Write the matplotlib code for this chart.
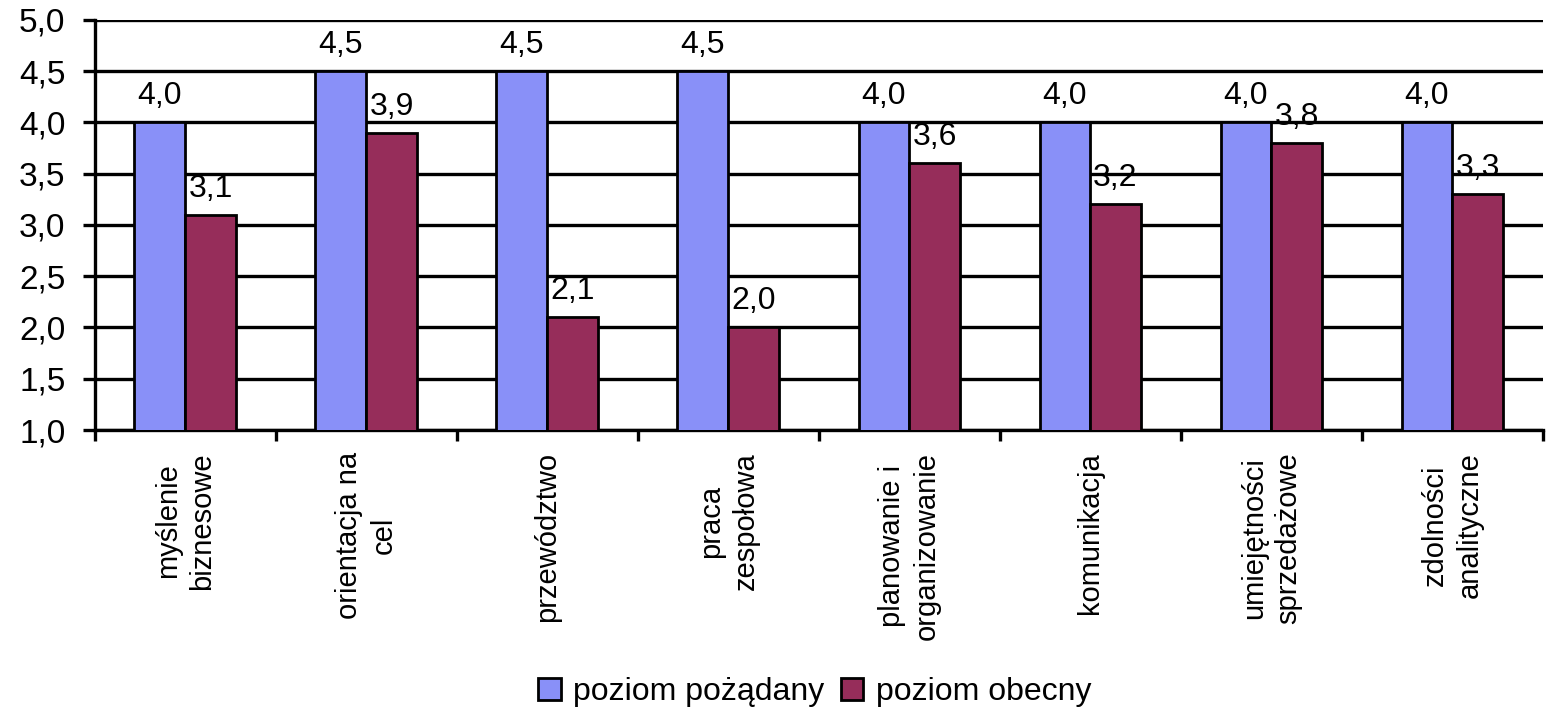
import numpy as np
import matplotlib.pyplot as plt
from matplotlib.ticker import FuncFormatter, MultipleLocator

plt.rcParams['font.family'] = ['Liberation Sans', 'DejaVu Sans']

# skills and their ratings (desired vs. current level)
categories = ['myślenie\nbiznesowe', 'orientacja na\ncel', 'przewództwo',
              'praca\nzespołowa', 'planowanie i\norganizowanie', 'komunikacja',
              'umiejętności\nsprzedażowe', 'zdolności\nanalityczne']
desired = [4.0, 4.5, 4.5, 4.5, 4.0, 4.0, 4.0, 4.0]
current = [3.1, 3.9, 2.1, 2.0, 3.6, 3.2, 3.8, 3.3]
series_names = ['poziom pożądany', 'poziom obecny']

col_blue = '#8990f8'
col_red = '#962d5a'

fig = plt.figure(figsize=(15.52, 7.09), dpi=100)
ax = fig.add_axes([0.061, 0.3935, 0.933, 0.5785])

x = np.arange(len(categories))
w = 0.28
b1 = ax.bar(x - w/2, desired, w, bottom=0, color=col_blue, edgecolor='black',
            linewidth=2.0, zorder=3, label=series_names[0])
b2 = ax.bar(x + w/2, current, w, bottom=0, color=col_red, edgecolor='black',
            linewidth=2.0, zorder=3, label=series_names[1])

fmt = lambda v: ('%.1f' % v).replace('.', ',')
for bars, vals in ((b1, desired), (b2, current)):
    for r, v in zip(bars, vals):
        ax.annotate(fmt(v), (r.get_x() + r.get_width()/2, v), xytext=(0, 8),
                    textcoords='offset points', ha='center', va='bottom',
                    fontsize=23, zorder=4)

ax.set_ylim(1.0, 5.0)
ax.set_xlim(-0.5, len(categories) - 0.5)
ax.yaxis.set_major_locator(MultipleLocator(0.5))
ax.yaxis.set_major_formatter(FuncFormatter(lambda v, p: fmt(v)))
ax.grid(axis='y', color='black', linewidth=2.4, zorder=0)
ax.set_axisbelow(True)

for s in ('top', 'right'):
    ax.spines[s].set_visible(False)
for s in ('left', 'bottom'):
    ax.spines[s].set_linewidth(2.4)

ax.tick_params(axis='y', length=9, width=2.4, labelsize=24, pad=12)
ax.set_xticks(x)
ax.set_xticklabels(categories, rotation=90, va='top', ha='center',
                   multialignment='center', fontsize=21, linespacing=1.3)
ax.tick_params(axis='x', which='major', length=0, pad=16)
ax.set_xticks(np.arange(len(categories) + 1) - 0.5, minor=True)
ax.tick_params(axis='x', which='minor', length=8, width=2.4)

fig.legend(handles=[b1, b2], labels=series_names, loc='center',
           bbox_to_anchor=(0.525, 0.024), ncol=2, frameon=False, fontsize=23,
           handlelength=0.7, handleheight=0.7, handletextpad=0.4,
           columnspacing=0.5)

fig.savefig('out.png', dpi=100)
